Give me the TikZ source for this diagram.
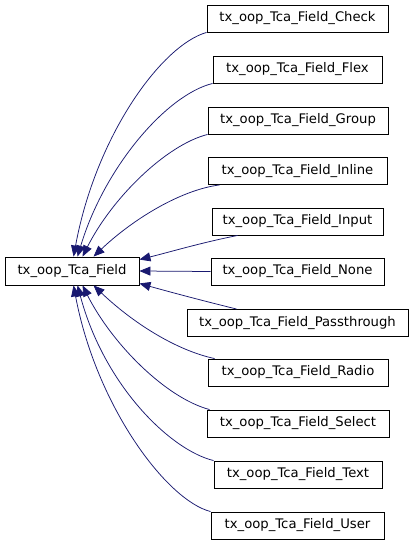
\documentclass[tikz,border=0pt]{standalone}
\usepackage{fontspec}
\setmainfont{DejaVu Sans}
\usetikzlibrary{arrows.meta}
\definecolor{edgeblue}{HTML}{191970}
\tikzset{
  cls/.style={draw=black, line width=0.9pt, fill=white, inner sep=0pt, minimum height=27pt, font=\fontsize{13.2}{15}\selectfont},
  inh/.style={draw=edgeblue, line width=0.75pt, -{Triangle[length=11pt,width=9pt]}, fill=none}
}
\begin{document}
\begin{tikzpicture}[x=1pt,y=-1pt]
\useasboundingbox (0,0) rectangle (413,544);
\fill[white] (0,0) rectangle (413,544);
\node[cls, minimum width=134pt, minimum height=28pt] (base) at (72,271) {tx\_oop\_Tca\_Field};
\node[cls, minimum width=181pt] (check) at (297.5,18.5) {tx\_oop\_Tca\_Field\_Check};
\node[cls, minimum width=169pt] (flex) at (297.5,69.5) {tx\_oop\_Tca\_Field\_Flex};
\node[cls, minimum width=180pt] (group) at (298,120.5) {tx\_oop\_Tca\_Field\_Group};
\node[cls, minimum width=179pt] (inline) at (297.5,171) {tx\_oop\_Tca\_Field\_Inline};
\node[cls, minimum width=171pt] (input) at (297.5,221.5) {tx\_oop\_Tca\_Field\_Input};
\node[cls, minimum width=173pt] (none) at (297.5,271.5) {tx\_oop\_Tca\_Field\_None};
\node[cls, minimum width=221pt] (pass) at (297.5,323) {tx\_oop\_Tca\_Field\_Passthrough};
\node[cls, minimum width=180pt] (radio) at (298,372.5) {tx\_oop\_Tca\_Field\_Radio};
\node[cls, minimum width=182pt] (select) at (298,423.5) {tx\_oop\_Tca\_Field\_Select};
\node[cls, minimum width=168pt] (text) at (298,474.5) {tx\_oop\_Tca\_Field\_Text};
\node[cls, minimum width=173pt] (user) at (297.5,525.5) {tx\_oop\_Tca\_Field\_User};

% upper edges
\draw[inh] (check.south west) .. controls (162,45) and (96,135) .. ([xshift=69pt]base.north west);
\draw[inh] (flex.south west) .. controls (166,95) and (104,168) .. ([xshift=73pt]base.north west);
\draw[inh] (group.south west) .. controls (166,145) and (112,198) .. ([xshift=78pt]base.north west);
\draw[inh] ([xshift=12pt]inline.south west) .. controls (180,190) and (132,220) .. ([xshift=89pt]base.north west);
\draw[inh] ([xshift=26pt]input.south west) .. controls (200,243) and (170,252) .. ([yshift=-3pt]base.north east);
\draw[inh] (none.west) -- (base.east);
\draw[inh] ([xshift=50pt]pass.north west) .. controls (200,300) and (170,292) .. ([yshift=2pt]base.south east);
% lower edges
\draw[inh] ([xshift=7pt]radio.north west) .. controls (175,350) and (132,322) .. ([xshift=89pt]base.south west);
\draw[inh] ([xshift=3pt]select.north west) .. controls (166,398) and (112,344) .. ([xshift=78pt]base.south west);
\draw[inh] (text.north west) .. controls (170,450) and (104,385) .. ([xshift=73pt]base.south west);
\draw[inh] (user.north west) .. controls (166,500) and (96,405) .. ([xshift=69pt]base.south west);
\end{tikzpicture}
\end{document}
